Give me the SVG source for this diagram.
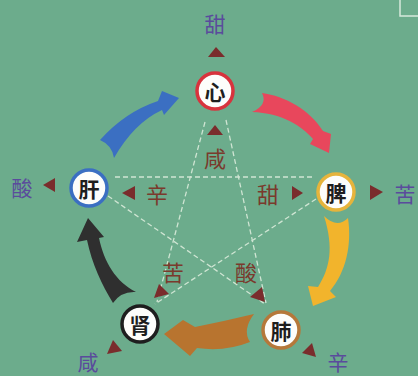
<svg xmlns="http://www.w3.org/2000/svg" width="418" height="376" viewBox="0 0 418 376">
<style>
.dash{stroke:#cfe5d3;stroke-width:1.3;stroke-dasharray:5 3;fill:none}
.tri{fill:#7a2c2c}
.lbl{font-family:"Noto Sans CJK SC","Noto Sans",sans-serif;text-anchor:middle;dominant-baseline:central}
.outer{font-size:21px;fill:#5a4b9c}
.inner{font-size:22px;fill:#7a3a2c}
.node circle{fill:#fdfdfb;stroke-width:3.5}
.node text{font-family:"Noto Sans CJK SC",sans-serif;font-size:21px;font-weight:bold;fill:#1e1e1e;text-anchor:middle;dominant-baseline:central}
</style>
<rect width="418" height="376" fill="#6cac8c"/>
<polyline points="400,0 400,16 418,16" fill="none" stroke="#d6e9dc" stroke-width="1.5"/>

<g id="star">
<line class="dash" x1="115" y1="177" x2="313" y2="177"/>
<line class="dash" x1="205" y1="122" x2="157" y2="302"/>
<line class="dash" x1="226" y1="120" x2="266" y2="303"/>
<line class="dash" x1="108" y1="196" x2="265" y2="304"/>
<line class="dash" x1="316" y1="199" x2="155" y2="304"/>
</g>

<g id="connectors">
<path id="arrow-blue" fill="#3b6fc2" d="M100,140 Q125,112 158,101 L162,91 L179,98 L164,115 L162,110 Q134,123 114,158 Q112,145 100,140 Z"/>
<path id="arrow-red" fill="#e8475c" d="M262,93 C285,96 310,110 323,131 L331,134 L329,153 L310,144 L313,139 C302,126 282,113 252,112 Q268,105 262,93 Z"/>
<path id="arrow-yellow" fill="#f2b42c" d="M348,218 C352,245 346,272 330,291 L336,297 L313,306 L308,286 L318,287 C330,268 334,248 324,216 Q337,229 348,218 Z"/>
<path id="arrow-brown" fill="#b8742f" d="M254,314 Q225,321 195,327 L183,320 L164,334 L190,356 L197,348 Q225,352 250,342 Q242,330 254,314 Z"/>
<path id="arrow-black" fill="#2f2f2f" d="M88,218 L104,237 L99,238 C104,262 116,282 136,292 Q121,291 113,303 C102,285 92,264 87,240 L77,242 Z"/>
</g>

<g id="node-xin" class="node"><circle cx="215" cy="91" r="18" stroke="#d8333d"/><text x="215" y="91">心</text></g>
<g id="node-pi" class="node"><circle cx="336" cy="192" r="18" stroke="#e6b43c"/><text x="336" y="192">脾</text></g>
<g id="node-fei" class="node"><circle cx="281" cy="330" r="18" stroke="#b5783a"/><text x="281" y="330">肺</text></g>
<g id="node-shen" class="node"><circle cx="140" cy="324" r="18" stroke="#1e1e1e"/><text x="140" y="324">肾</text></g>
<g id="node-gan" class="node"><circle cx="89" cy="188" r="18" stroke="#3b6fc2"/><text x="89" y="188">肝</text></g>

<g id="outer-labels">
<polygon class="tri" points="216,47 208,57 225,57"/>
<text class="lbl outer" x="215" y="23">甜</text>
<polygon class="tri" points="383,192 370,185 370,200"/>
<text class="lbl outer" x="405" y="193">苦</text>
<polygon class="tri" points="316,357 312,343 302,353"/>
<text class="lbl outer" x="338" y="361">辛</text>
<polygon class="tri" points="107,354 113,340 122,351"/>
<text class="lbl outer" x="88" y="361">咸</text>
<polygon class="tri" points="43,185 55,178 55,192"/>
<text class="lbl outer" x="22" y="187">酸</text>
</g>

<g id="inner-labels">
<polygon class="tri" points="215,125 207,135 223,135"/>
<text class="lbl inner" x="215" y="157">咸</text>
<polygon class="tri" points="303,193 292,186 292,200"/>
<text class="lbl inner" x="268" y="193">甜</text>
<polygon class="tri" points="122,193 135,186 135,200"/>
<text class="lbl inner" x="157" y="193">辛</text>
<polygon class="tri" points="154,298 159,284 169,294"/>
<text class="lbl inner" x="173" y="271">苦</text>
<polygon class="tri" points="265,302 262,287 250,297"/>
<text class="lbl inner" x="246" y="271">酸</text>
</g>
</svg>
